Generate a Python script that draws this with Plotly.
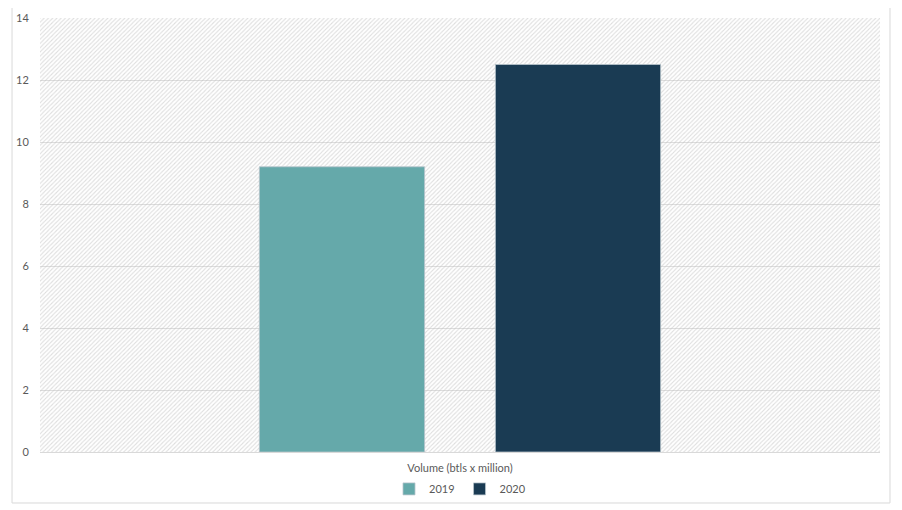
import plotly.graph_objects as go

category = ["Volume (btls x million)"]
years = ["2019", "2020"]
volume_2019 = [9.2]
volume_2020 = [12.5]
colors = {"2019": "#65A9AA", "2020": "#1A3B53"}

fig = go.Figure()

# hatched plot background (Excel-style pattern fill), drawn on the base axes
fig.add_trace(go.Scatter(
    x=[0, 1, 1, 0, 0], y=[0, 0, 1, 1, 0],
    xaxis="x", yaxis="y",
    mode="none", fill="toself",
    fillcolor="rgba(0,0,0,0)",
    fillpattern=dict(shape="/", fgcolor="#bdbdbd", bgcolor="rgba(0,0,0,0)",
                     size=3, solidity=0.35),
    hoverinfo="skip", showlegend=False,
))

for yr, vals in zip(years, [volume_2019, volume_2020]):
    fig.add_trace(go.Bar(
        name=yr, x=category, y=vals,
        xaxis="x2", yaxis="y2",
        marker=dict(color=colors[yr], line=dict(color="#b8c4cc", width=0.8)),
    ))

# page body has an 8px margin, so the figure is 8px smaller than the window
fig.update_layout(
    width=894, height=502,
    margin=dict(l=32, r=22, t=10, b=58, autoexpand=False),
    paper_bgcolor="white", plot_bgcolor="white",
    font=dict(family="Lato, Open Sans, sans-serif", size=11, color="#595959"),
    barmode="group", bargap=0.438, bargroupgap=0.3,
    xaxis=dict(range=[0, 1], visible=False, fixedrange=True, automargin=False),
    yaxis=dict(range=[0, 1], visible=False, fixedrange=True, automargin=False),
    xaxis2=dict(overlaying="x", showgrid=False, showline=True, linecolor="#d9d9d9",
                linewidth=1, ticks="outside", ticklen=6, tickcolor="rgba(0,0,0,0)",
                automargin=False, tickfont=dict(size=11, color="#595959")),
    yaxis2=dict(overlaying="y", range=[0, 14], dtick=2, showgrid=True,
                gridcolor="#dedede", gridwidth=1, zeroline=False, showline=False,
                ticks="outside", ticklen=8, tickcolor="rgba(0,0,0,0)",
                automargin=False, tickfont=dict(size=11, color="#595959")),
    legend=dict(orientation="h", x=0.5, xanchor="center", y=-0.085, yanchor="middle",
                font=dict(size=11, color="#595959"), itemwidth=30,
                bgcolor="rgba(0,0,0,0)", traceorder="normal"),
    shapes=[dict(type="rect", xref="paper", yref="paper",
                 x0=-0.0333, x1=1.0119, y0=-0.1175, y1=1.0276,
                 line=dict(color="#d9d9d9", width=1), fillcolor="rgba(0,0,0,0)",
                 layer="below")],
)

fig.write_html("out.html")
